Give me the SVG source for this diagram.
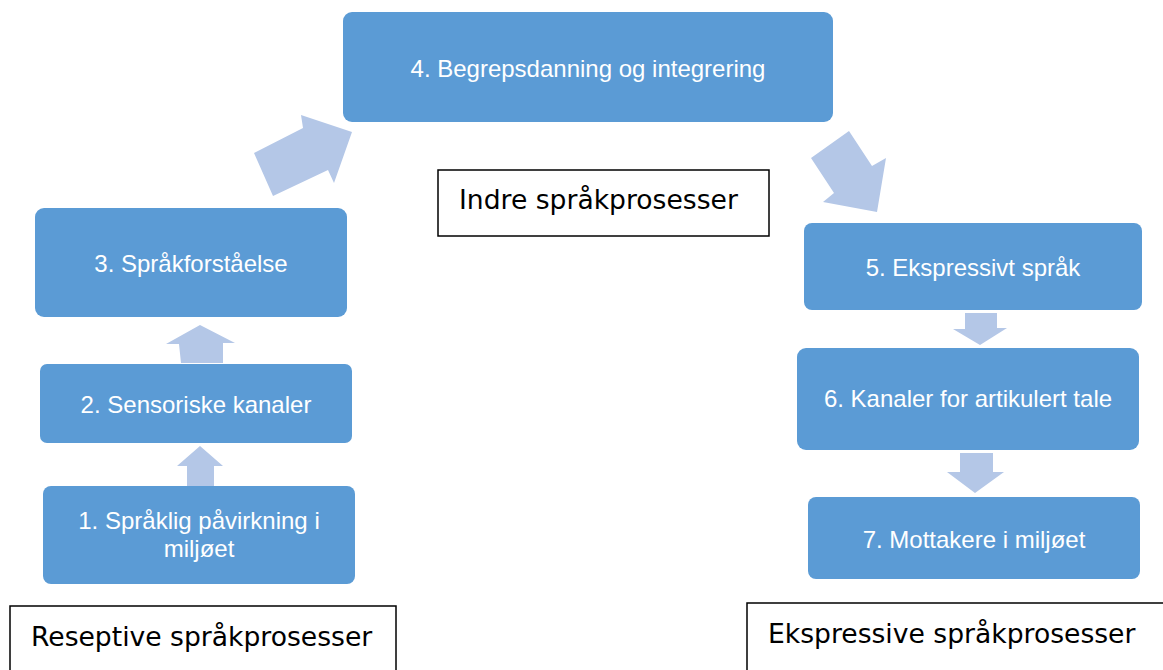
<svg xmlns="http://www.w3.org/2000/svg" width="1163" height="670" viewBox="0 0 1163 670">
<style>
.box{fill:#5B9BD5;}
.bt{fill:#fff;font-family:"Liberation Sans",Arial,sans-serif;font-size:24px;text-anchor:middle;}
.lab{fill:#fff;stroke:#000;stroke-width:1.5;}
.lt{fill:#000;font-family:"DejaVu Sans",Verdana,sans-serif;font-size:26.6px;}
.arr{fill:#B4C7E7;}
</style>
<rect width="1163" height="670" fill="#fff"/>
<g id="connectors">
<polygon class="arr" points="254,153 303,128 301,115 352,132 334,183 328,170 273,196"/>
<polygon class="arr" points="811,158 849,131 872,166 886,158 877,212 823,202 834,193"/>
<polygon class="arr" points="181,363 223,363 223,343 235,343 200,325 166,344 179,344"/>
<polygon class="arr" points="187,490 214,490 214,466 223,466 200,446 177,466 187,466"/>
<polygon class="arr" points="965,313 997,313 997,328 1007,328 980,345 953,329 965,329"/>
<polygon class="arr" points="960,453 993,453 993,472 1004,472 975,493 947,472 960,472"/>
</g>
<g id="n4"><rect class="box" x="343" y="12" width="490" height="110" rx="9"/><text class="bt" x="588" y="77">4. Begrepsdanning og integrering</text></g>
<g id="n3"><rect class="box" x="35" y="208" width="312" height="109" rx="9"/><text class="bt" x="191" y="272">3. Språkforståelse</text></g>
<g id="n2"><rect class="box" x="40" y="364" width="312" height="79" rx="7"/><text class="bt" x="196" y="413">2. Sensoriske kanaler</text></g>
<g id="n1"><rect class="box" x="43" y="486" width="312" height="98" rx="8"/><text class="bt" x="199" y="529">1. Språklig påvirkning i</text><text class="bt" x="199" y="557">miljøet</text></g>
<g id="n5"><rect class="box" x="804" y="223" width="338" height="87" rx="8"/><text class="bt" x="973" y="276">5. Ekspressivt språk</text></g>
<g id="n6"><rect class="box" x="797" y="348" width="342" height="102" rx="9"/><text class="bt" x="968" y="407">6. Kanaler for artikulert tale</text></g>
<g id="n7"><rect class="box" x="808" y="497" width="332" height="82" rx="8"/><text class="bt" x="974" y="548">7. Mottakere i miljøet</text></g>
<g id="l1"><rect class="lab" x="438" y="170" width="331" height="66"/><text class="lt" x="459" y="209">Indre språkprosesser</text></g>
<g id="l2"><rect class="lab" x="10" y="606" width="386" height="70"/><text class="lt" x="31" y="646">Reseptive språkprosesser</text></g>
<g id="l3"><rect class="lab" x="747" y="603" width="430" height="70"/><text class="lt" x="768" y="643">Ekspressive språkprosesser</text></g>
</svg>
